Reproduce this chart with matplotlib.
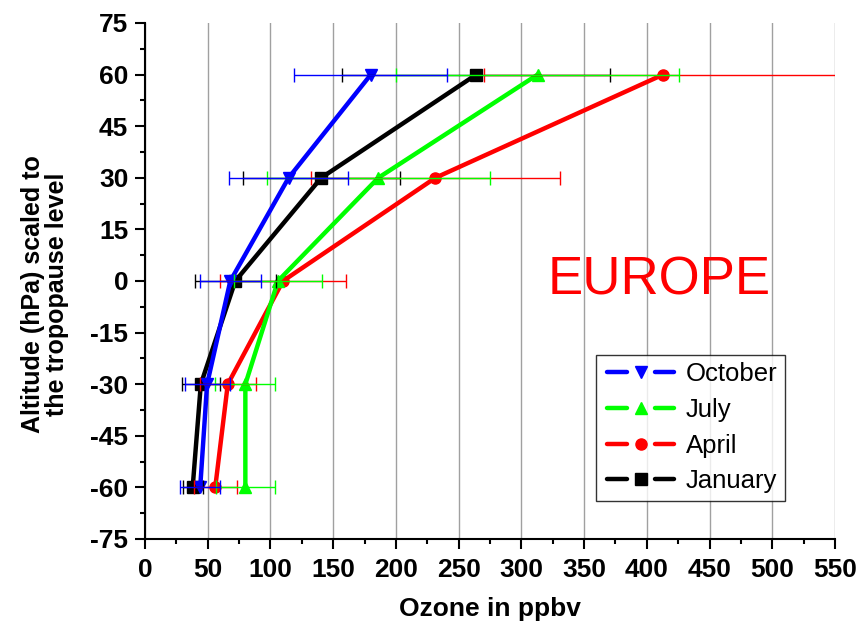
import matplotlib.pyplot as plt
from matplotlib.lines import Line2D
from matplotlib.ticker import MultipleLocator

plt.rcParams['font.family'] = ['Liberation Sans', 'DejaVu Sans']
plt.rcParams['axes.unicode_minus'] = False

# altitude levels (hPa relative to tropopause)
levels = [-60, -30, 0, 30, 60]

jan = [38, 44.5, 72, 140.5, 264]
jan_err = [8, 15, 32.5, 62.5, 107]
apr = [56, 66, 110, 231.5, 413]
apr_err = [17, 22.5, 50, 99.5, 143]
jul = [80, 80, 106, 186, 313]
jul_err = [23.5, 24, 35, 89, 113]
oct_ = [44, 49.5, 68, 114.5, 180]
oct_err = [16, 18, 24.5, 47.5, 61]

series = [
    ("January", jan, jan_err, "black", "s"),
    ("April", apr, apr_err, "#ff0000", "o"),
    ("July", jul, jul_err, "#00ff00", "^"),
    ("October", oct_, oct_err, "#0000ff", "v"),
]


class GapHandler:
    # origin-style legend key: line - marker - line with small gaps
    def legend_artist(self, legend, orig, fontsize, handlebox):
        x0, y0 = -handlebox.xdescent, -handlebox.ydescent
        w, h = handlebox.width, handlebox.height
        yc = y0 + h / 2
        tr = handlebox.get_transform()
        kw = dict(color=orig.get_color(), lw=orig.get_linewidth(),
                  solid_capstyle="round", transform=tr)
        a = Line2D([x0 + 0.05 * w, x0 + 0.31 * w], [yc, yc], **kw)
        b = Line2D([x0 + 0.69 * w, x0 + 0.95 * w], [yc, yc], **kw)
        m = Line2D([x0 + w / 2], [yc], ls="none", marker=orig.get_marker(),
                   ms=orig.get_markersize(), color=orig.get_color(),
                   transform=tr)
        for art in (a, b, m):
            handlebox.add_artist(art)
        return m


fig = plt.figure(figsize=(8.61, 6.3), dpi=100)
ax = fig.add_axes([0.1684, 0.1445, 0.8014, 0.819])

handles = {}
for name, vals, err, col, mk in series:
    ln, = ax.plot(vals, levels, color=col, lw=3.2, marker=mk, ms=8,
                  label=name, zorder=3)
    ax.errorbar(vals, levels, xerr=err, fmt="none", ecolor=col,
                elinewidth=1, capsize=5, capthick=1, zorder=4)
    handles[name] = ln

ax.set_xlim(0, 550)
ax.set_ylim(-75, 75)
ax.xaxis.set_major_locator(MultipleLocator(50))
ax.xaxis.set_minor_locator(MultipleLocator(25))
ax.yaxis.set_major_locator(MultipleLocator(15))
ax.yaxis.set_minor_locator(MultipleLocator(7.5))

ax.grid(axis="x", color="#a0a0a0", lw=1)
ax.set_axisbelow(True)
gl = ax.xaxis.get_gridlines()
gl[0].set_visible(False)
gl[-1].set_visible(False)

for s in ["top", "right"]:
    ax.spines[s].set_visible(False)
for s in ["left", "bottom"]:
    ax.spines[s].set_linewidth(1.5)

ax.tick_params(which="major", direction="out", length=7, width=1.5,
               labelsize=19)
ax.tick_params(which="minor", direction="out", length=3.6, width=1.5)
ax.tick_params(axis="x", which="major", pad=7)
ax.tick_params(axis="y", which="major", pad=5)
for lbl in ax.get_xticklabels() + ax.get_yticklabels():
    lbl.set_fontweight("bold")

ax.set_xlabel("Ozone in ppbv", fontsize=19, fontweight="bold")
ax.xaxis.set_label_coords(0.5, -0.112)
ax.set_ylabel("Altitude (hPa) scaled to\nthe tropopause level", fontsize=18,
              fontweight="bold", linespacing=1.0)
ax.yaxis.set_label_coords(-0.11, 0.475)

ax.text(410, 0, "EUROPE", color="#ff0000", fontsize=38,
        ha="center", va="center")

order = ["October", "July", "April", "January"]
leg = ax.legend([handles[n] for n in order], order, loc="lower right",
                bbox_to_anchor=(0.9275, 0.074), fontsize=18.5, frameon=True,
                fancybox=False, edgecolor="black", handlelength=2.9,
                handletextpad=0.3, borderpad=0.3, labelspacing=0.45,
                borderaxespad=0, handler_map={Line2D: GapHandler()})
leg.get_frame().set_linewidth(1)

fig.savefig("out.png", dpi=100)
